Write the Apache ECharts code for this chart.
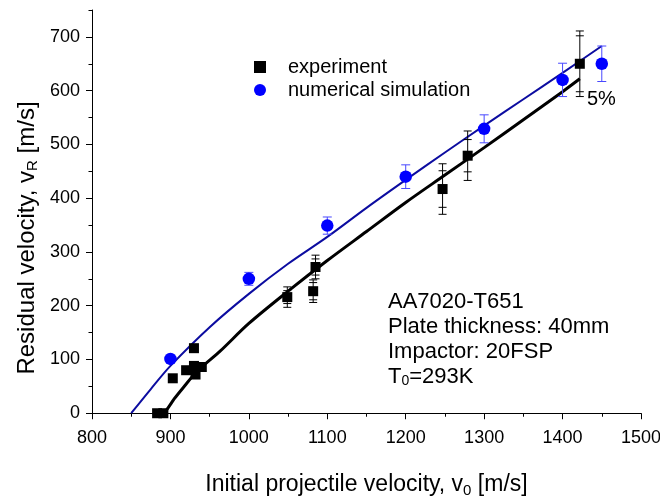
<!DOCTYPE html>
<html lang="en">
<head>
    <meta charset="utf-8"/>
    <title>Residual velocity</title>
    <script src="https://cdn.jsdelivr.net/npm/echarts@6.0.0/dist/echarts.min.js"></script>
</head>
<style>
    html, body { margin: 0; padding: 0; background: #fff; }
</style>
<body>
<div id="main" style="width: 660px;height: 496px;"></div>
<script>
    // experiment points (black squares)
    var expX = [883, 891, 903, 920, 930, 932, 930, 940, 1049, 1085, 1082, 1247, 1279, 1422];
    var expY = [0, 0, 65, 80, 88, 72, 121, 86, 216, 272, 227, 417, 479, 650];
    var expErr = [0, 0, 0, 0, 0, 0, 0, 0, 19, 22, 21, 47, 46, 61];
    var expErrIn = [0, 0, 0, 0, 0, 0, 0, 0, 12, 15, 16, 34, 30, 52];

    // numerical simulation points (blue circles)
    var simX = [900, 1000, 1100, 1200, 1300, 1400, 1450];
    var simY = [101, 250, 349, 440, 529, 620, 650];
    var simErr = [0, 12, 16, 22, 26, 31, 33];

    // curves
    var expLineX = [890, 895, 905, 916, 934, 963, 1000, 1050, 1100, 1150, 1200, 1250, 1300, 1350, 1400, 1422];
    var expLineY = [0, 6, 27, 47, 78, 115, 167, 227, 284, 338, 392, 443, 494, 546, 598, 622];
    var simLineX = [850, 875, 900, 950, 1000, 1050, 1100, 1150, 1200, 1250, 1300, 1350, 1400, 1450];
    var simLineY = [0, 45, 88, 160, 222, 278, 328, 382, 434, 485, 535, 584, 633, 683];

    var yMajor = [0, 100, 200, 300, 400, 500, 600, 700];
    var yMinor = [50, 150, 250, 350, 450, 550, 650, 750];

    var font = 'Liberation Sans';

    function zip(a, b, c, d) {
        var out = [];
        for (var i = 0; i < a.length; i++) {
            var row = [a[i], b[i]];
            if (c) row.push(c[i]);
            if (d) row.push(d[i]);
            out.push(row);
        }
        return out;
    }

    // draws vertical error bars with caps (and optional inner caps)
    function errorBars(color, capHalf, width) {
        return function (params, api) {
            var x = api.value(0), y = api.value(1), e = api.value(2), ei = api.value(3);
            if (!e) return null;
            var top = api.coord([x, y + e]);
            var bot = api.coord([x, y - e]);
            var st = {stroke: color, lineWidth: width};
            var kids = [
                {type: 'line', shape: {x1: top[0], y1: top[1], x2: bot[0], y2: bot[1]}, style: st},
                {type: 'line', shape: {x1: top[0] - capHalf, y1: top[1], x2: top[0] + capHalf, y2: top[1]}, style: st},
                {type: 'line', shape: {x1: bot[0] - capHalf, y1: bot[1], x2: bot[0] + capHalf, y2: bot[1]}, style: st}
            ];
            if (ei) {
                var it = api.coord([x, y + ei]);
                var ib = api.coord([x, y - ei]);
                kids.push({type: 'line', shape: {x1: it[0] - capHalf, y1: it[1], x2: it[0] + capHalf, y2: it[1]}, style: st});
                kids.push({type: 'line', shape: {x1: ib[0] - capHalf, y1: ib[1], x2: ib[0] + capHalf, y2: ib[1]}, style: st});
            }
            return {type: 'group', children: kids};
        };
    }

    var chartDom = document.getElementById('main');
    var myChart = echarts.init(chartDom);
    var option = {
        animation: false,
        backgroundColor: '#fff',
        textStyle: {fontFamily: font, color: '#000'},
        grid: {left: 92, right: 19, top: 10, bottom: 79, containLabel: false, outerBoundsMode: 'none'},
        legend: {
            orient: 'vertical',
            left: 249,
            top: 52,
            itemWidth: 12,
            itemHeight: 12,
            itemGap: 3,
            textStyle: {fontSize: 20, color: '#000', fontFamily: font, padding: [0, 0, 0, 17]},
            data: [
                {name: 'experiment', icon: 'rect', itemStyle: {color: '#000', opacity: 1}},
                {name: 'numerical simulation', icon: 'circle', itemStyle: {color: '#0000ff', opacity: 1}}
            ]
        },
        xAxis: {
            type: 'value',
            min: 800,
            max: 1500,
            interval: 100,
            name: 'Initial projectile velocity, v{sub|0} [m/s]',
            nameLocation: 'middle',
            nameGap: 54,
            nameTextStyle: {
                fontSize: 23, color: '#000', fontFamily: font,
                rich: {sub: {fontSize: 15, fontFamily: font, color: '#000', padding: [12, 0, 0, 0]}}
            },
            axisLine: {lineStyle: {color: '#000', width: 1}},
            axisTick: {length: 6, lineStyle: {color: '#000'}},
            minorTick: {show: true, splitNumber: 2, length: 3.5, lineStyle: {color: '#000'}},
            splitLine: {show: false},
            axisLabel: {
                fontSize: 18, color: '#000', fontFamily: font, margin: 12,
                formatter: function (v) { return String(v); }
            }
        },
        yAxis: [
            {
                type: 'value',
                position: 'left',
                min: -7,
                max: 750,
                axisLine: {show: true, lineStyle: {color: '#000', width: 1}},
                axisTick: {show: true, length: 6, customValues: yMajor, lineStyle: {color: '#000'}},
                axisLabel: {fontSize: 18, color: '#000', fontFamily: font, margin: 12, customValues: yMajor},
                splitLine: {show: false}
            },
            {
                type: 'value',
                position: 'left',
                min: -7,
                max: 750,
                axisLine: {show: false},
                axisTick: {show: true, length: 3.5, customValues: yMinor, lineStyle: {color: '#000'}},
                axisLabel: {show: false},
                splitLine: {show: false}
            }
        ],
        graphic: [
            {
                // y axis title, rotated
                type: 'text', x: 27, y: 238, rotation: Math.PI / 2,
                style: {
                    text: 'Residual velocity, v{sub|R} [m/s]',
                    fontSize: 24, fontFamily: font, fill: '#000',
                    align: 'center', verticalAlign: 'middle',
                    rich: {sub: {fontSize: 15, fontFamily: font, fill: '#000', padding: [12, 0, 0, 0]}}
                }
            },
            {
                type: 'text', left: 587, top: 89,
                style: {text: '5%', fontSize: 20, fontFamily: font, fill: '#000'}
            },
            {
                type: 'text', left: 388, top: 289,
                style: {
                    text: 'AA7020-T651\nPlate thickness: 40mm\nImpactor: 20FSP\nT{sub|0}=293K',
                    fontSize: 22, lineHeight: 25, fontFamily: font, fill: '#000',
                    rich: {sub: {fontSize: 14, fontFamily: font, fill: '#000', padding: [10, 0, 0, 0]}}
                }
            }
        ],
        series: [
            {
                name: 'fit-exp',
                type: 'line',
                data: zip(expLineX, expLineY),
                smooth: 0.3,
                showSymbol: false,
                lineStyle: {color: '#000', width: 3},
                z: 2
            },
            {
                name: 'fit-sim',
                type: 'line',
                data: zip(simLineX, simLineY),
                smooth: 0.3,
                showSymbol: false,
                lineStyle: {color: '#0c0ca0', width: 2},
                z: 2
            },
            {
                name: 'exp-err',
                type: 'custom',
                renderItem: errorBars('#000', 4, 1),
                data: zip(expX, expY, expErr, expErrIn),
                z: 3
            },
            {
                name: 'sim-err',
                type: 'custom',
                renderItem: errorBars('#4848ff', 4.5, 1),
                data: zip(simX, simY, simErr),
                z: 3
            },
            {
                name: 'experiment',
                type: 'scatter',
                symbol: 'rect',
                symbolSize: 10,
                itemStyle: {color: '#000', opacity: 1},
                data: zip(expX, expY),
                clip: false,
                z: 4
            },
            {
                name: 'numerical simulation',
                type: 'scatter',
                symbol: 'circle',
                symbolSize: 12.5,
                itemStyle: {color: '#0000ff', opacity: 1},
                data: zip(simX, simY),
                clip: false,
                z: 4
            }
        ]
    };
    myChart.setOption(option);
</script>
</body>
</html>
